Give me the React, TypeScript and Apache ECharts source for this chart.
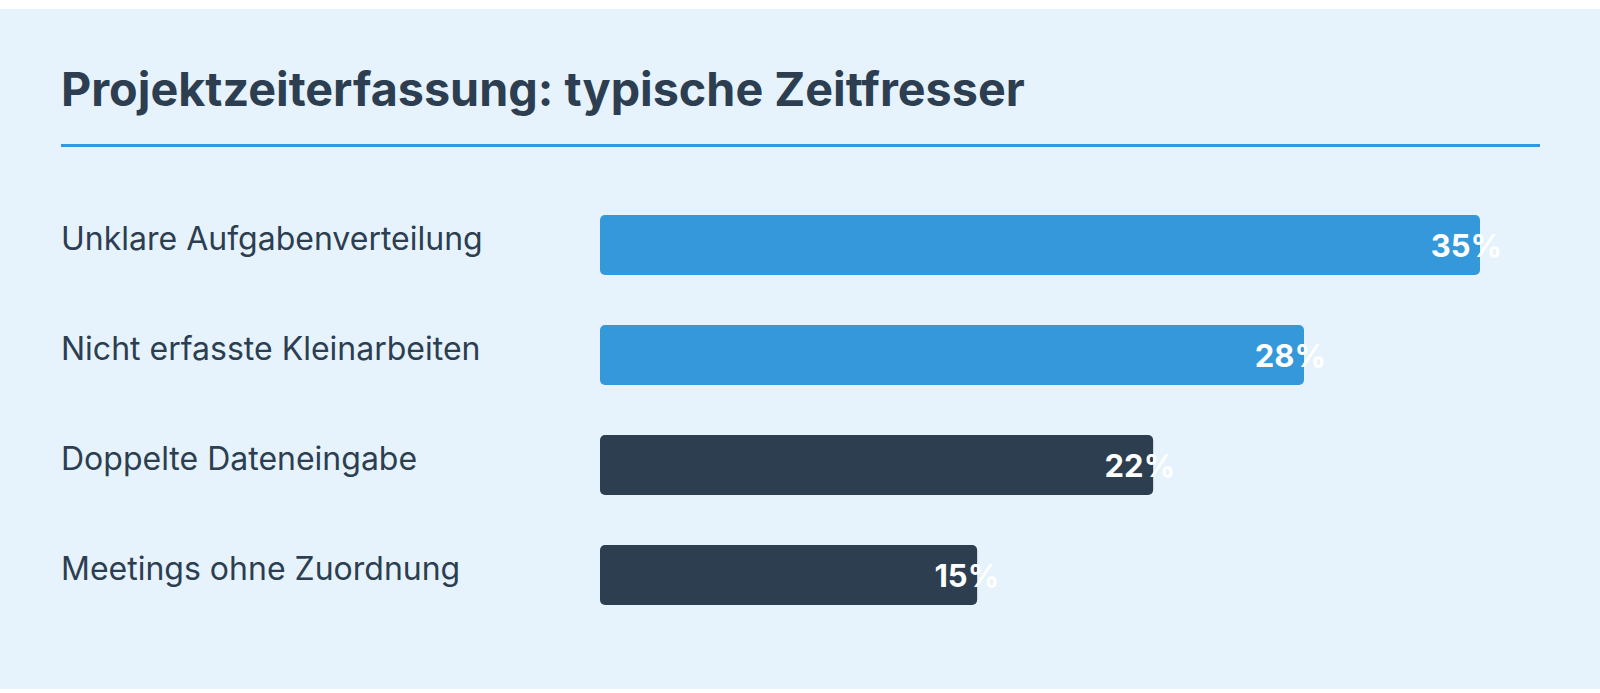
import React, { useEffect, useRef } from "react";
import * as echarts from "echarts";

// Zeitfresser in der Projektzeiterfassung (Anteil in %)
const categories = [
  "Unklare Aufgabenverteilung",
  "Nicht erfasste Kleinarbeiten",
  "Doppelte Dateneingabe",
  "Meetings ohne Zuordnung",
];
const values = [35, 28, 22, 15];
const barColors = ["#3498db", "#3498db", "#2c3e50", "#2c3e50"];

const TITLE = "Projektzeiterfassung: typische Zeitfresser";
const FONT = "Inter, 'Noto Sans', sans-serif";

export default function App() {
  const ref = useRef<HTMLDivElement>(null);

  useEffect(() => {
    if (!ref.current) return;
    const chart = echarts.init(ref.current, undefined, { renderer: "svg" });
    chart.setOption({
      animation: false,
      backgroundColor: "#ffffff",
      graphic: [
        {
          type: "rect",
          z: -10,
          shape: { x: 0, y: 9, width: 1600, height: 680 },
          style: { fill: "#e6f3fd" },
        },
        {
          type: "rect",
          shape: { x: 61, y: 144, width: 1479, height: 3 },
          style: { fill: "#3498db" },
        },
        {
          type: "text",
          x: 61,
          y: 89,
          style: {
            text: TITLE,
            fontFamily: FONT,
            fontSize: 46.7,
            fontWeight: 700,
            fill: "#2c3e50",
            verticalAlign: "middle",
          },
        },
      ],
      grid: { left: 600, width: 880, top: 190, height: 440 },
      xAxis: {
        type: "value",
        min: 0,
        max: 35,
        show: false,
      },
      yAxis: {
        type: "category",
        data: categories,
        inverse: true,
        axisLine: { show: false },
        axisTick: { show: false },
        axisLabel: {
          align: "left",
          verticalAlign: "bottom",
          lineHeight: 14,
          margin: 539,
          color: "#2c3e50",
          fontFamily: FONT,
          fontSize: 32,
        },
      },
      series: [
        {
          type: "bar",
          barWidth: 60,
          data: values.map((v, i) => ({
            value: v,
            itemStyle: { color: barColors[i], borderRadius: 5 },
          })),
          label: {
            show: true,
            position: "insideRight",
            distance: 0,
            offset: [22, 0],
            formatter: "{c}%",
            color: "#ffffff",
            fontFamily: FONT,
            fontWeight: 700,
            fontSize: 31,
          },
        },
      ],
    });
    return () => chart.dispose();
  }, []);

  return (
    <div
      ref={ref}
      style={{ position: "fixed", left: 0, top: 0, width: 1600, height: 693 }}
    />
  );
}
